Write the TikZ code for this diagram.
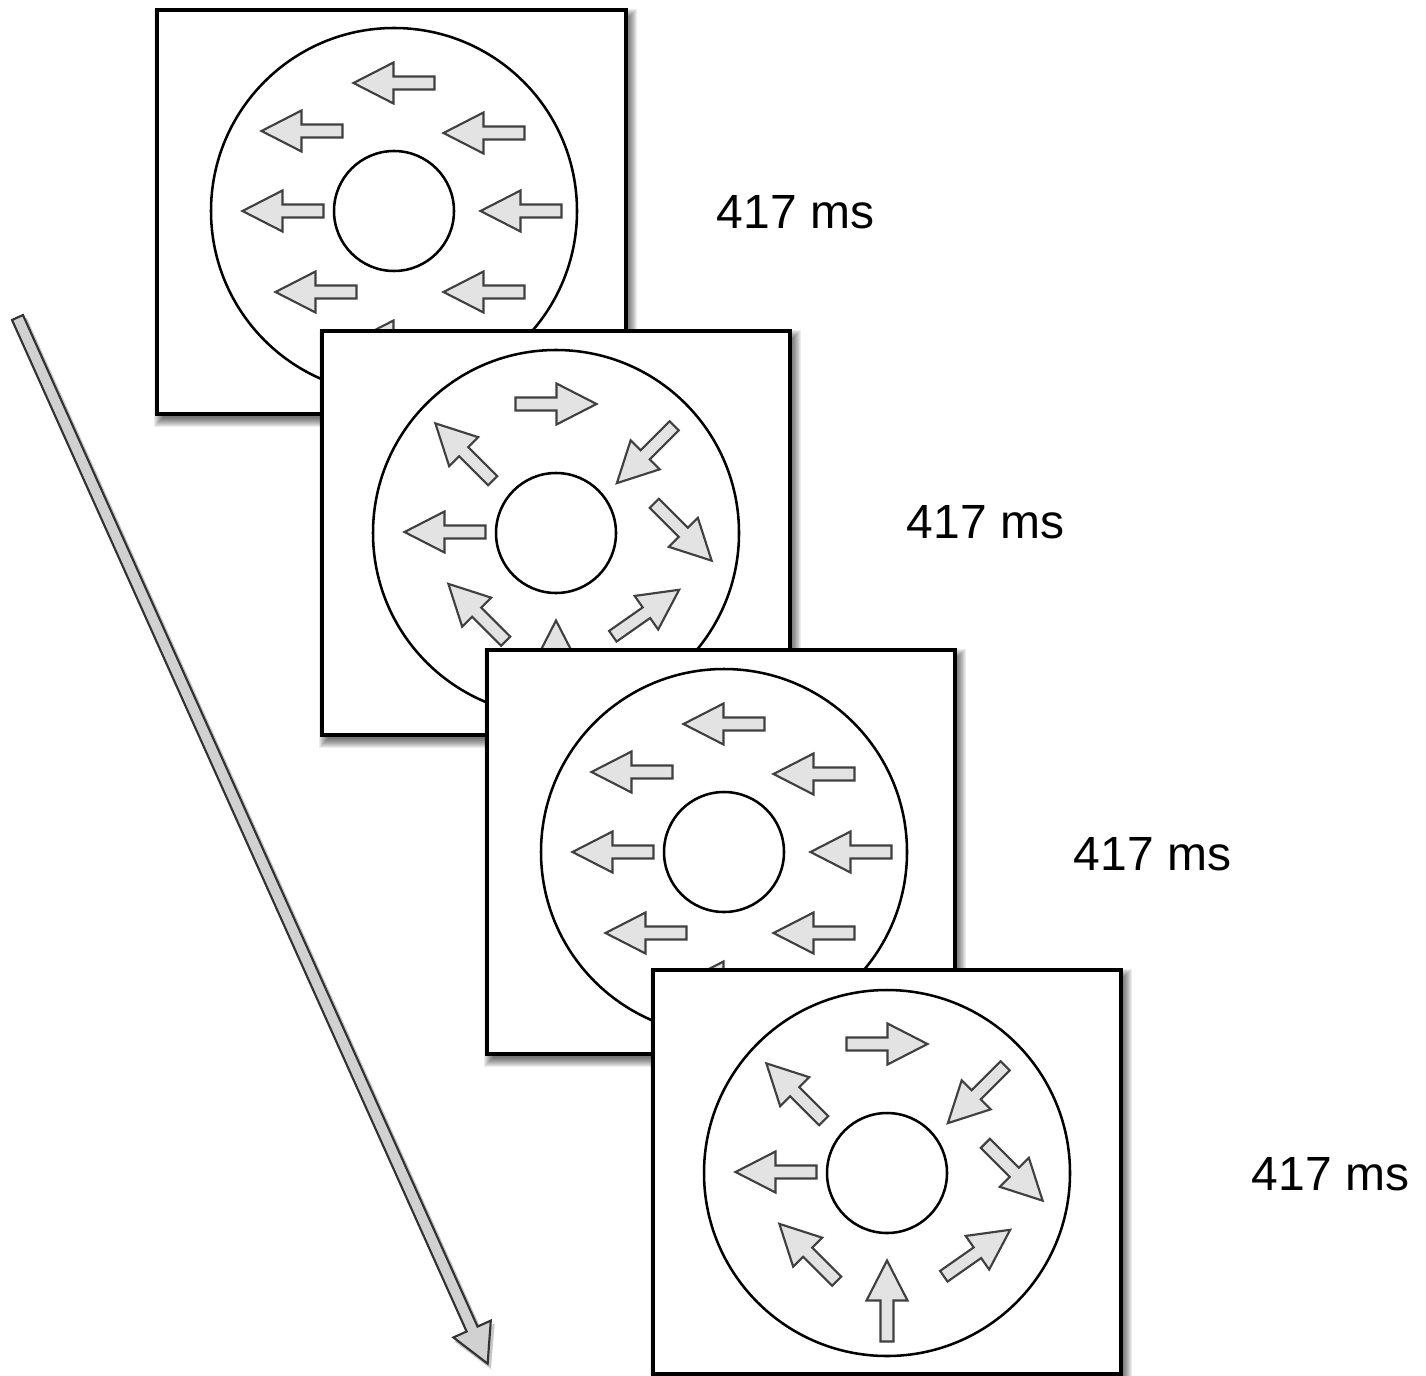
\documentclass[tikz,border=0pt]{standalone}
\usepackage{fontspec}
\setmainfont{Liberation Sans}
\tikzset{
  frame/.style={draw=black, line width=2.4pt, fill=white},
  ring/.style={draw=black, line width=1.9pt},
  sarrow/.style={draw=black!75, fill=black!11, line width=1.6pt, line join=miter},
  bigarr/.style={draw=black!80, fill=black!18, line width=1.6pt, line join=miter},
  lbl/.style={inner sep=0pt, anchor=base west, font=\fontsize{36}{43}\selectfont},
  darr/.pic={\path[sarrow] (-40.5,-6.5) -- (0.5,-6.5) -- (0.5,-20.5) -- (40.5,0) -- (0.5,20.5) -- (0.5,6.5) -- (-40.5,6.5) -- cycle;}
}
\newcommand\fshadow[4]{%
  \foreach \s in {-2,...,7}{%
    \fill[black, opacity=0.07] ({#1+4-\s},{#2+6-\s}) rectangle ({#3+4+\s},{#4+6+\s});
  }%
}
\newcommand\patA[2]{%
  \foreach \dx/\dy in {0/-128,-92/-80,90/-78,-111/0,127/0,-78/81,90/81,0/130}{%
    \pic[rotate=180] at ({#1+\dx},{#2+\dy}) {darr};
  }%
}
\newcommand\patB[2]{%
  \foreach \dx/\dy/\a in {0/-129/0,-92/-81/135,89.5/-78.5/225,-111/-1/180,127/-1/-45,-79/79.5/135,90/80/35,0/128/90}{%
    \pic[rotate=\a] at ({#1+\dx},{#2+\dy}) {darr};
  }%
}
\newcommand\stimframe[7]{% x0 y0 x1 y1 cx cy pattern
  \fshadow{#1}{#2}{#3}{#4}
  \path[frame] (#1,#2) rectangle (#3,#4);
  \draw[ring] (#5,#6) circle[radius=183];
  \draw[ring] (#5,#6) circle[radius=60];
  #7{#5}{#6}
}
\begin{document}
\begin{tikzpicture}[x=0.75pt,y=-0.75pt]
\useasboundingbox (0,0) rectangle (1426,1376);
\fill[white] (0,0) rectangle (1426,1376);

\stimframe{157}{10}{626}{414}{394}{211}{\patA}
\stimframe{322}{331}{790}{735}{556}{533}{\patB}
\stimframe{487}{650}{955}{1054}{724}{852}{\patA}
\stimframe{653}{970}{1121}{1374}{887}{1173}{\patB}

% time arrow
\coordinate (tstart) at (17.5,317.5);
\begin{scope}[shift={(20,321)}, rotate=-65.8]
  \fill[black, opacity=0.22] (0,-7.5) -- (1109,-7.5) -- (1109,-22) -- (1149,0) -- (1109,22) -- (1109,7.5) -- (0,7.5) -- cycle;
\end{scope}
\begin{scope}[shift={(tstart)}, rotate=-65.8]
  \path[bigarr] (0,-6) -- (1109,-6) -- (1109,-20.5) -- (1147,0) -- (1109,20.5) -- (1109,6) -- (0,6) -- cycle;
\end{scope}

\node[lbl] (t1) at (716.5,229) {417 ms};
\node[lbl] (t2) at (906.5,538) {417 ms};
\node[lbl] (t3) at (1073.5,870) {417 ms};
\node[lbl] (t4) at (1251.5,1190) {417 ms};
\end{tikzpicture}
\end{document}
